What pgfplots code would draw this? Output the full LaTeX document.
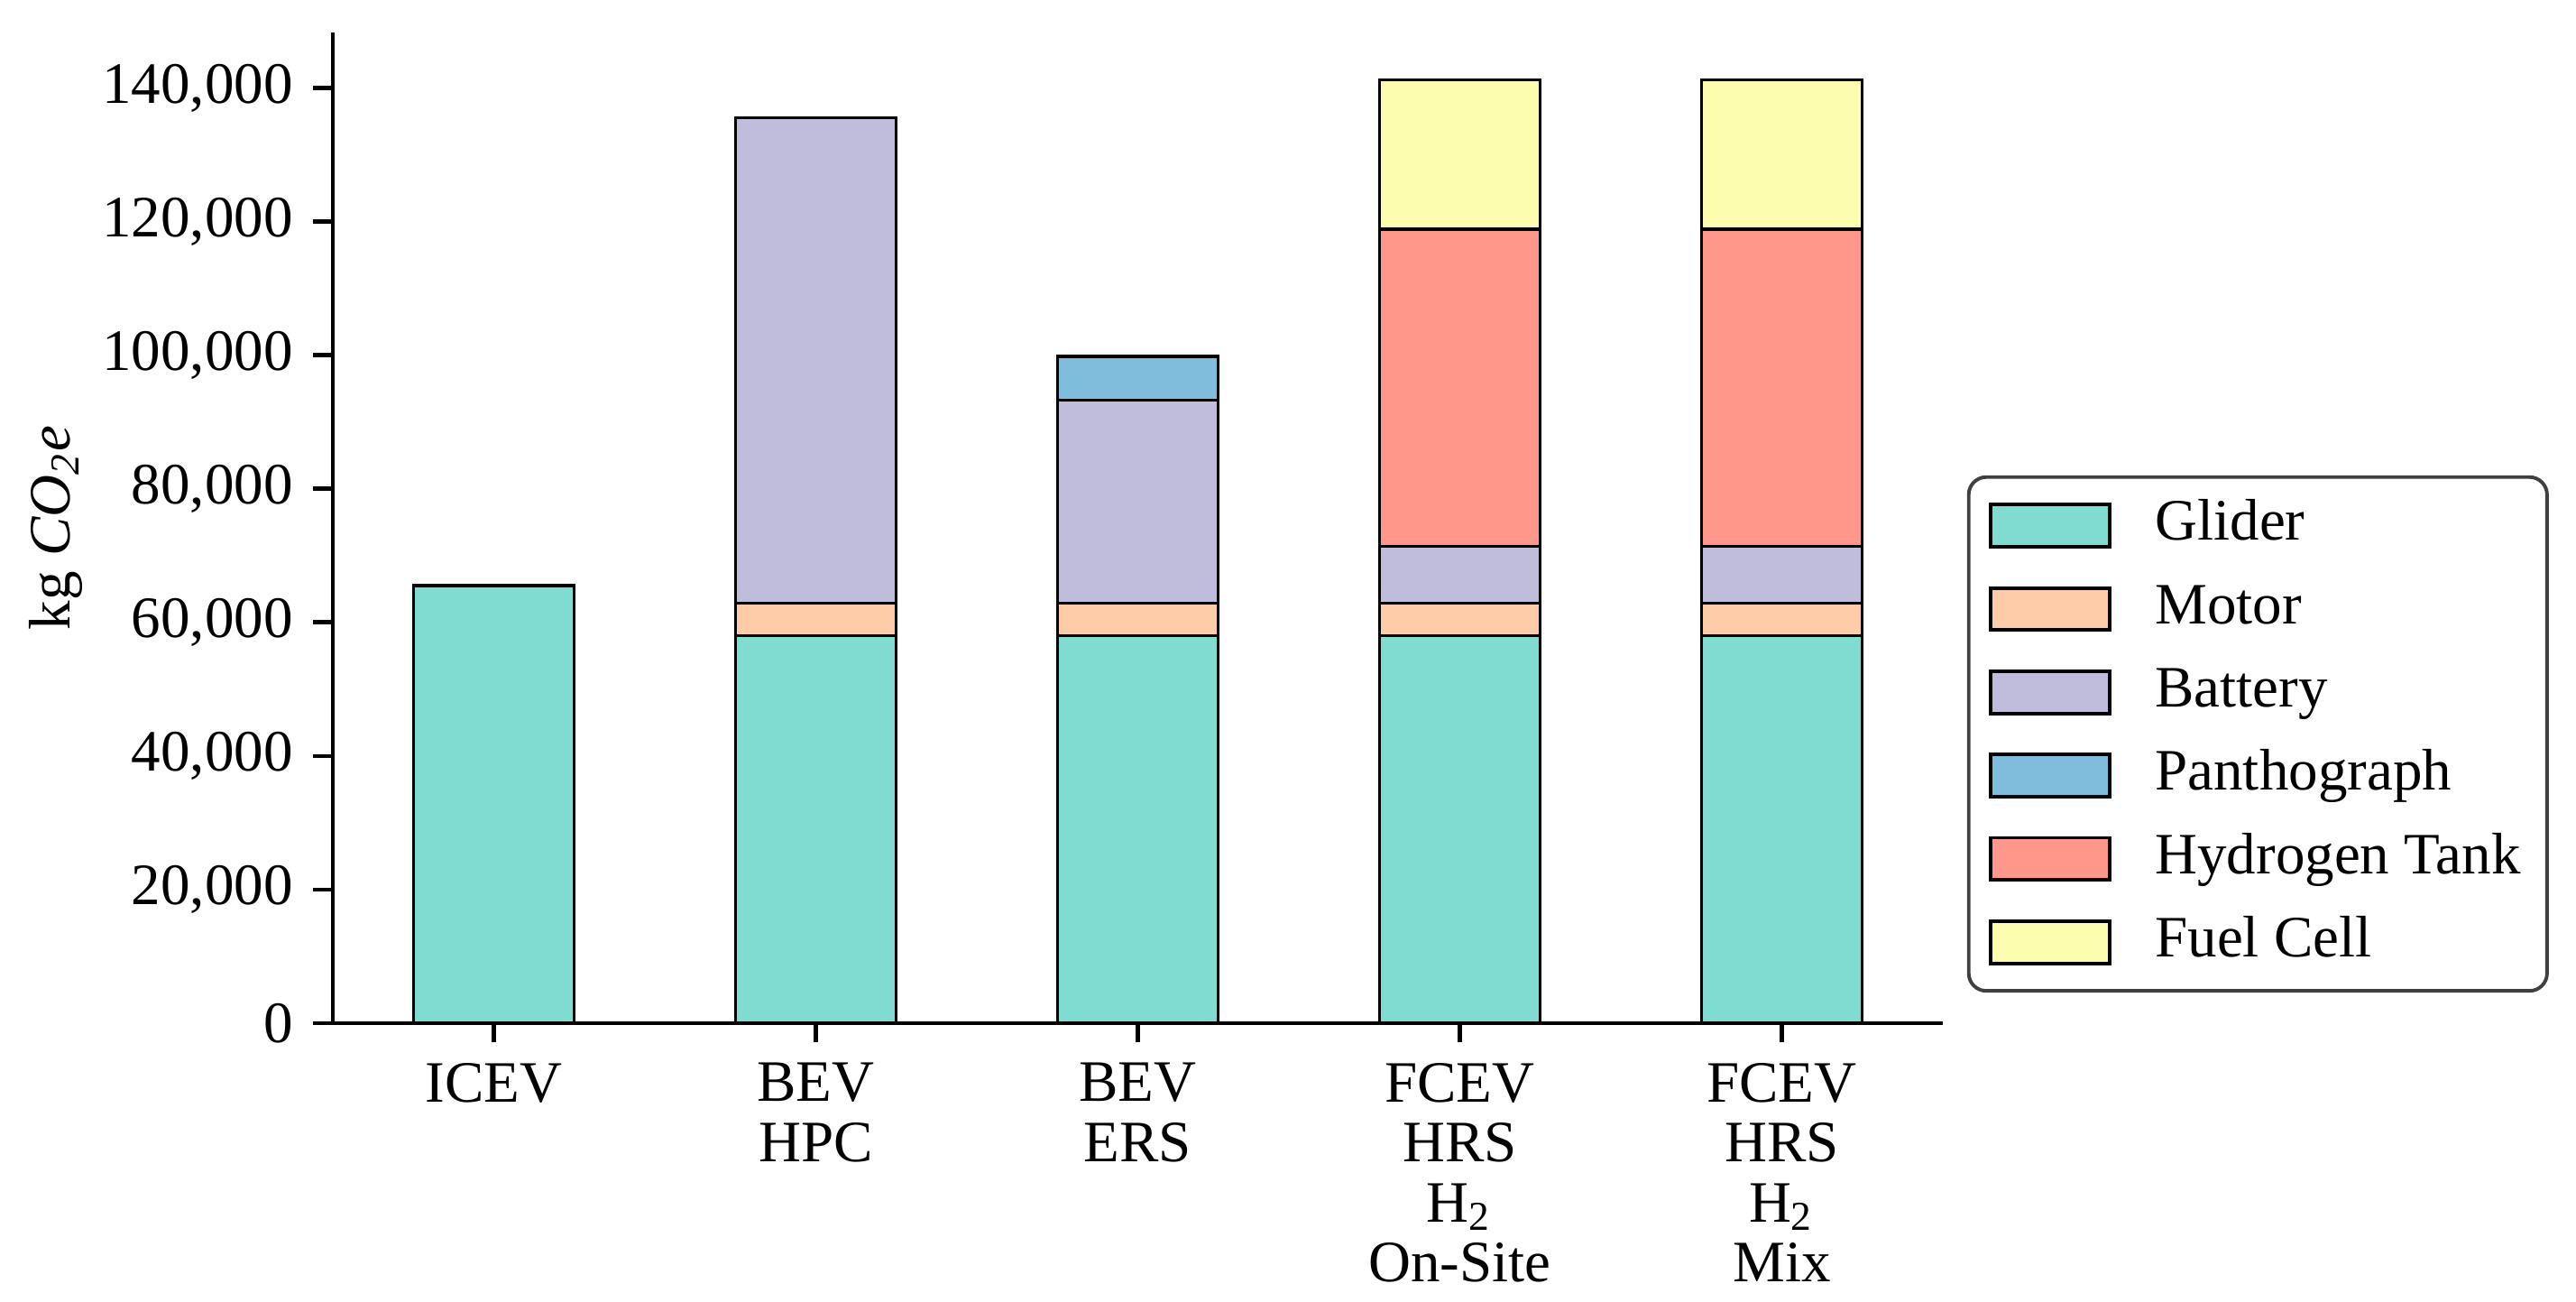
\documentclass[border=0pt]{standalone}
\usepackage{pgfplots}
\pgfplotsset{compat=1.18}
\usepackage{fontspec}
\setmainfont{Liberation Serif}

\definecolor{glider}{HTML}{80DBD0}
\definecolor{motor}{HTML}{FFCCAA}
\definecolor{battery}{HTML}{C0BCDC}
\definecolor{panto}{HTML}{80BDDD}
\definecolor{htank}{HTML}{FF988A}
\definecolor{fcell}{HTML}{FDFDB0}

\pgfplotsset{
  seg/.style={fill=#1, draw=black, line width=0.5pt,
    legend image code/.code={%
      \draw[sharp corners, fill=#1, draw=black, line width=0.6pt] (0pt,-3.6pt) rectangle (20.3pt,3.6pt);
      \path[draw=none, fill=none] (0pt,0pt) -- (27pt,0pt);}},
}

\begin{document}
\begin{tikzpicture}
\begin{axis}[
  scale only axis, width=274.6pt, height=168.9pt,
  xmin=-0.5, xmax=4.5, ymin=0, ymax=148300,
  axis x line*=bottom, axis y line*=left,
  axis line style={line width=0.7pt, black},
  ybar stacked, bar width=0.5,
  xtick={0,...,4},
  xticklabels={ICEV, BEV\\HPC, BEV\\ERS, FCEV\\HRS\\H\textsubscript{2}\\On-Site, FCEV\\HRS\\H\textsubscript{2}\\Mix},
  xticklabel style={align=center, font=\fontsize{10}{10.2}\selectfont},
  ytick={0,20000,...,140000},
  scaled y ticks=false,
  yticklabel style={/pgf/number format/.cd, fixed, 1000 sep={,}, assume math mode=true},
  tick align=outside, major tick length=3.3pt,
  tick style={black, line width=0.7pt},
  ylabel={kg \textit{CO}\textsubscript{\textit{2}}\textit{e}},
  ylabel style={at={(axis description cs:-0.172,0.5)}, anchor=center},
  legend style={at={(1.015,0.553)}, anchor=north west, draw=black!75,
    line width=0.6pt, rounded corners=3pt, inner xsep=3.5pt, inner ysep=2.3pt,
    row sep=2.2pt, font=\fontsize{10}{12}\selectfont,
    nodes={inner sep=1pt, text height=0.75em, text depth=0.25em, anchor=west}},
  legend cell align=left,
]
\addplot[seg=glider]  coordinates {(0,65500) (1,58000) (2,58000) (3,58000) (4,58000)};
\addplot[seg=motor]   coordinates {(0,0) (1,4900) (2,4900) (3,4900) (4,4900)};
\addplot[seg=battery] coordinates {(0,0) (1,72600) (2,30350) (3,8450) (4,8450)};
\addplot[seg=panto]   coordinates {(0,0) (1,0) (2,6550) (3,0) (4,0)};
\addplot[seg=htank]   coordinates {(0,0) (1,0) (2,0) (3,47500) (4,47500)};
\addplot[seg=fcell]   coordinates {(0,0) (1,0) (2,0) (3,22400) (4,22400)};
\legend{Glider, Motor, Battery, Panthograph, Hydrogen Tank, Fuel Cell}
\coordinate (bl) at (rel axis cs:-0.2067,-0.2814);
\coordinate (tr) at (rel axis cs:1.3933,1.0328);
\end{axis}
\path (bl) rectangle (tr);
\end{tikzpicture}
\end{document}
